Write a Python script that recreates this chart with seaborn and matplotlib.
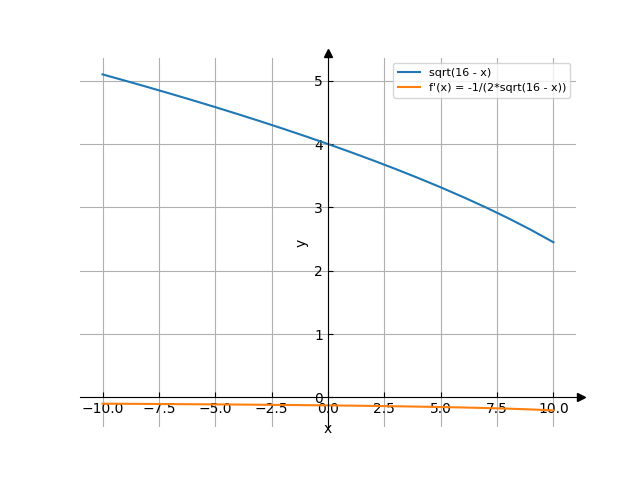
import matplotlib
matplotlib.use("Agg")
import matplotlib.pyplot as plt
import matplotlib.transforms as mtransforms
import seaborn as sns

# sample points of f(x) = sqrt(16 - x) and its derivative
x_vals = [-10, -9, -8, -7, -6, -5, -4, -3, -2, -1, 0,
          1, 2, 3, 4, 5, 6, 7, 8, 9, 10]
f_vals = [5.0990, 5.0000, 4.8990, 4.7958, 4.6904, 4.5826, 4.4721, 4.3589,
          4.2426, 4.1231, 4.0000, 3.8730, 3.7417, 3.6056, 3.4641, 3.3166,
          3.1623, 3.0000, 2.8284, 2.6458, 2.4495]
df_vals = [-0.0981, -0.1000, -0.1021, -0.1043, -0.1066, -0.1091, -0.1118,
           -0.1147, -0.1179, -0.1213, -0.1250, -0.1291, -0.1336, -0.1387,
           -0.1443, -0.1508, -0.1581, -0.1667, -0.1768, -0.1890, -0.2041]

fig, ax = plt.subplots(figsize=(6.4, 4.8), dpi=100)
sns.lineplot(x=x_vals, y=f_vals, ax=ax, label="sqrt(16 - x)")
sns.lineplot(x=x_vals, y=df_vals, ax=ax, label="f'(x) = -1/(2*sqrt(16 - x))")

# axes through the origin with arrow heads just outside the box
ax.spines["left"].set_position(("data", 0))
ax.spines["bottom"].set_position(("data", 0))
ax.spines["right"].set_visible(False)
ax.spines["top"].set_visible(False)
right_tr = mtransforms.offset_copy(ax.get_yaxis_transform(), fig=fig, x=4.5, y=0, units="dots")
top_tr = mtransforms.offset_copy(ax.get_xaxis_transform(), fig=fig, x=0, y=5, units="dots")
ax.plot(1, 0, ">k", transform=right_tr, clip_on=False)
ax.plot(0, 1, "^k", transform=top_tr, clip_on=False)

ax.tick_params(direction="in")
ax.set_xlabel("x")
ax.set_ylabel("y")
ax.grid(True)
ax.legend(fontsize=8, loc="upper right")

plt.savefig("out.png")
